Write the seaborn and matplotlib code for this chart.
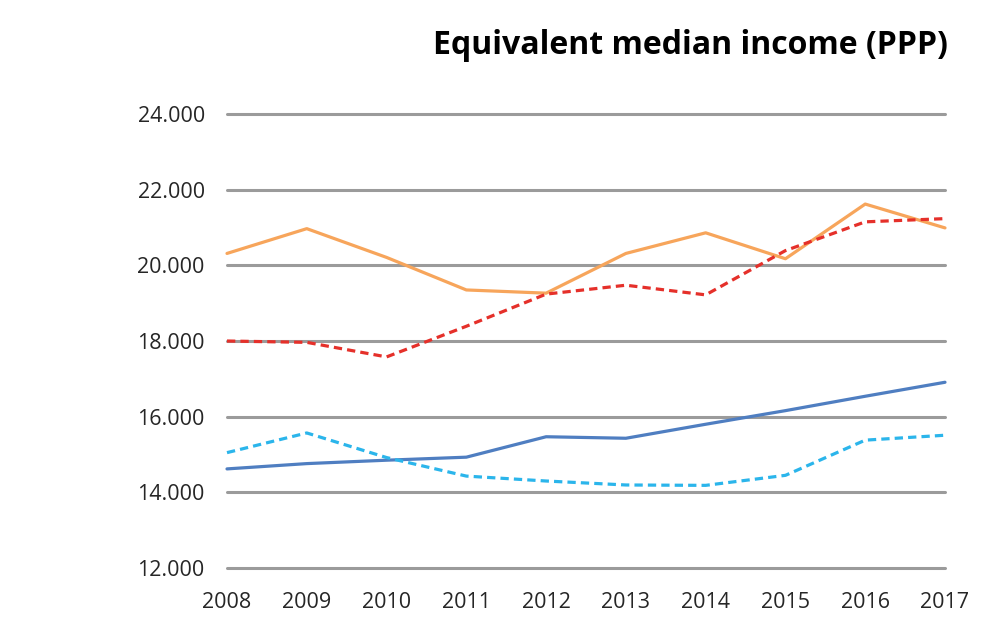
import pandas as pd
import matplotlib.pyplot as plt
import seaborn as sns

years = [2008, 2009, 2010, 2011, 2012, 2013, 2014, 2015, 2016, 2017]

# values (PPP)
orange_solid = [20315, 20970, 20210, 19350, 19265, 20315, 20860, 20175, 21620, 20990]
red_dashed = [18000, 17965, 17580, 18390, 19240, 19475, 19220, 20390, 21150, 21235]
blue_solid = [14620, 14760, 14850, 14930, 15470, 15430, 15800, 16160, 16540, 16910]
cyan_dashed = [15050, 15570, 14920, 14430, 14300, 14195, 14185, 14450, 15380, 15510]

y_ticks = [12000, 14000, 16000, 18000, 20000, 22000, 24000]
y_labels = ['12.000', '14.000', '16.000', '18.000', '20.000', '22.000', '24.000']

series = {
    'orange_solid': (orange_solid, '#F7A55B', '-'),
    'red_dashed': (red_dashed, '#E5302A', (0, (2.6, 1.6))),
    'blue_solid': (blue_solid, '#4F7EC1', '-'),
    'cyan_dashed': (cyan_dashed, '#2BB5EB', (0, (2.6, 1.6))),
}

sns.set_style('white')
plt.rcParams['font.family'] = ['Open Sans', 'DejaVu Sans']

fig = plt.figure(figsize=(10, 6.21), dpi=100)
ax = fig.add_axes([0.227, 0.0853, 0.718, 0.7311])

for name, (vals, color, ls) in series.items():
    df = pd.DataFrame({'year': years, 'value': vals})
    sns.lineplot(data=df, x='year', y='value', color=color, linewidth=2.3, ax=ax)
    line = ax.lines[-1]
    line.set_linestyle(ls)
    line.set_clip_on(False)
    line.set_zorder(3)

ax.set_xlim(2008, 2017)
ax.set_ylim(12000, 24000)
ax.set_xticks(years)
ax.set_xticklabels([str(y) for y in years])
ax.set_yticks(y_ticks)
ax.set_yticklabels(y_labels)
ax.set_xlabel('')
ax.set_ylabel('')

ax.grid(axis='y', color='#9B9B9B', linewidth=2.2)
ax.grid(axis='x', visible=False)
for gl in ax.get_ygridlines():
    gl.set_clip_on(False)
ax.set_axisbelow(True)
sns.despine(ax=ax, left=True, bottom=True)

ax.tick_params(axis='y', length=0, pad=16, labelsize=15.5, labelcolor='#262626')
ax.tick_params(axis='x', length=0, pad=17, labelsize=15.5, labelcolor='#262626')

fig.text(0.948, 0.913, 'Equivalent median income (PPP)', ha='right', va='baseline',
         fontsize=23, fontweight='bold', color='#000000')

fig.savefig('out.png', dpi=100)
